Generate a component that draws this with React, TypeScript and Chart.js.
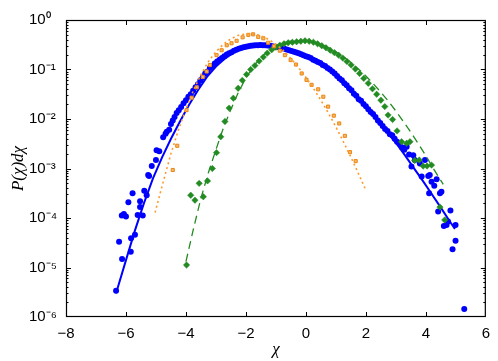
import React, { useEffect, useRef } from 'react';
import { Chart, registerables } from 'chart.js';

Chart.register(...registerables);

// ---------- tick labels ----------
const xTickValues = [-8, -6, -4, -2, 0, 2, 4, 6];
const xTickLabels = ['−8', '−6', '−4', '−2', '0', '2', '4', '6'];
const yTickValues = [1e-6, 1e-5, 1e-4, 1e-3, 1e-2, 1e-1, 1];
const yTickLabels = ['10⁻⁶', '10⁻⁵', '10⁻⁴', '10⁻³', '10⁻²', '10⁻¹', '10⁰'];

// ---------- blue data (circles) ----------
const blueX = [
  -6.33, -6.23, -6.14, -6.13, -6.07, -6.0, -5.92, -5.84, -5.83, -5.78, -5.7, -5.61, -5.53, -5.53, -5.44, -5.39,
  -5.31, -5.26, -5.23, -5.14, -5.0, -4.98, -4.89, -4.76, -4.68, -4.64, -4.56, -4.5, -4.44, -4.38, -4.31,
  -4.24, -4.16, -4.08, -4.0, -3.92, -3.84, -3.76, -3.68, -3.6, -3.52, -3.44, -3.36, -3.28, -3.2, -3.12, -3.04,
  -2.96, -2.88, -2.8, -2.72, -2.64, -2.56, -2.48, -2.4, -2.32, -2.24, -2.16, -2.08, -2.0, -1.92, -1.84, -1.76,
  -1.68, -1.6, -1.52, -1.44, -1.36, -1.28, -1.2, -1.12, -1.04, -0.96, -0.88, -0.8, -0.72, -0.64, -0.56, -0.48,
  -0.4, -0.32, -0.24, -0.16, -0.08, 0.0, 0.08, 0.16, 0.24, 0.32, 0.4, 0.48, 0.56, 0.64, 0.72, 0.8,
  0.88, 0.96, 1.04, 1.12, 1.2, 1.28, 1.36, 1.44, 1.52, 1.6, 1.68, 1.76, 1.84, 1.92, 2.0, 2.08,
  2.16, 2.24, 2.32, 2.4, 2.48, 2.56, 2.64, 2.72, 2.8, 2.88, 2.96, 3.04, 3.12, 3.2,
  3.28, 3.36, 3.44, 3.52, 3.58, 3.63, 3.8, 3.86, 3.97, 4.08, 4.11, 4.13, 4.19, 4.28, 4.36, 4.41,
  4.47, 4.52, 4.6, 4.69, 4.74, 4.82, 4.89, 4.99, 4.99, 5.28,
];
const blueY = [
  3.4e-6, 3.3e-5, 1.12e-4, 1.48e-5, 1.2e-4, 1.07e-4, 2.09e-4, 2.09e-5, 3.89e-5, 3.16e-4, 4.57e-5, 1.15e-4, 2.19e-4, 1.66e-4, 1.12e-4, 3.55e-4,
  2.88e-4, 7.41e-4, 7.08e-4, 1.12e-3, 1.48e-3, 2.34e-3, 2.24e-3, 4.27e-3, 5.01e-3, 5.5e-3, 6.03e-3, 7.94e-3, 9.33e-3, 1.1e-2, 1.32e-2,
  1.51e-2, 1.74e-2, 2.09e-2, 2.4e-2, 2.82e-2, 3.16e-2, 3.72e-2, 4.37e-2, 5.01e-2, 6.03e-2, 6.92e-2, 8.32e-2, 9.12e-2, 1.07e-1, 1.17e-1, 1.32e-1,
  1.45e-1, 1.58e-1, 1.7e-1, 1.86e-1, 2.0e-1, 2.14e-1, 2.24e-1, 2.4e-1, 2.51e-1, 2.63e-1, 2.72e-1, 2.82e-1, 2.88e-1, 2.95e-1, 3.02e-1, 3.05e-1,
  3.09e-1, 3.09e-1, 3.13e-1, 3.09e-1, 3.09e-1, 3.05e-1, 3.02e-1, 2.95e-1, 2.88e-1, 2.85e-1, 2.79e-1, 2.69e-1, 2.63e-1, 2.54e-1, 2.45e-1, 2.37e-1,
  2.29e-1, 2.21e-1, 2.14e-1, 2.04e-1, 1.95e-1, 1.86e-1, 1.78e-1, 1.7e-1, 1.58e-1, 1.51e-1, 1.41e-1, 1.35e-1, 1.23e-1, 1.17e-1, 1.07e-1, 1.0e-1,
  9.12e-2, 8.32e-2, 7.41e-2, 6.61e-2, 6.03e-2, 5.25e-2, 4.79e-2, 4.17e-2, 3.8e-2, 3.24e-2, 2.95e-2, 2.51e-2, 2.34e-2, 2.0e-2, 1.82e-2, 1.58e-2,
  1.38e-2, 1.26e-2, 1.1e-2, 9.33e-3, 8.32e-3, 7.24e-3, 6.31e-3, 5.75e-3, 4.9e-3, 4.68e-3, 3.98e-3, 3.47e-3, 3.16e-3, 2.69e-3,
  2.4e-3, 2.75e-3, 1.91e-3, 1.1e-3, 1.86e-3, 1.48e-3, 1.26e-3, 6.92e-4, 1.48e-3, 7.08e-4, 3.16e-4, 7.41e-4, 5.37e-4, 4.47e-4, 6.03e-4, 1.35e-4,
  3.16e-4, 3.39e-4, 6.92e-5, 7.24e-5, 8.51e-5, 1.41e-4, 2.34e-5, 7.24e-5, 3.47e-5, 1.45e-6,
];

// ---------- blue fit (solid line) ----------
const blueFitX = [
  -6.33, -6.0, -5.7, -5.4, -5.1, -4.8, -4.5, -4.2, -3.9, -3.6, -3.3, -3.0, -2.7, -2.4, -2.1, -1.8, -1.5, -1.2, -0.9, -0.6,
  -0.3, 0, 0.3, 0.6, 0.9, 1.2, 1.5, 1.8, 2.1, 2.4, 2.7, 3.0, 3.3, 3.6, 3.9, 4.2, 4.5, 4.8, 4.97,
];
const blueFitY = [
  3.02e-6, 1.41e-5, 5.62e-5, 2.0e-4, 6.31e-4, 1.66e-3, 3.98e-3, 8.91e-3, 1.91e-2, 3.8e-2, 7.08e-2, 1.15e-1, 1.66e-1, 2.24e-1, 2.75e-1, 3.09e-1, 3.16e-1, 3.09e-1, 2.88e-1, 2.57e-1,
  2.24e-1, 1.91e-1, 1.58e-1, 1.2e-1, 8.71e-2, 6.03e-2, 3.98e-2, 2.51e-2, 1.55e-2, 9.33e-3, 5.5e-3, 3.31e-3, 1.86e-3, 1.02e-3, 5.62e-4, 3.02e-4, 1.62e-4, 8.51e-5, 6.03e-5,
];

// ---------- green data (diamonds) ----------
const greenX = [
  -3.98, -3.84, -3.7, -3.56, -3.42, -3.28, -3.12, -2.98, -2.84, -2.7, -2.56, -2.42, -2.26, -2.12, -1.98, -1.84,
  -1.7, -1.56, -1.42, -1.29, -1.14, -1.0, -0.87, -0.73, -0.59, -0.45, -0.31, -0.17, -0.03, 0.11, 0.25, 0.39,
  0.53, 0.67, 0.81, 0.95, 1.09, 1.23, 1.37, 1.51, 1.65, 1.79, 1.93, 2.08, 2.22, 2.36, 2.5, 2.63,
  2.74, 2.89, 3.04, 3.19, 3.36, 3.47, 3.63, 3.78, 3.91, 4.04, 4.19, 4.47, 4.63,
];
const greenY = [
  1.12e-5, 2.88e-4, 2.29e-4, 5.01e-4, 2.69e-4, 5.62e-4, 1.0e-3, 2.09e-3, 4.37e-3, 8.91e-3, 1.66e-2, 2.63e-2, 4.17e-2, 6.03e-2, 7.94e-2, 1.0e-1,
  1.2e-1, 1.48e-1, 1.78e-1, 2.14e-1, 2.51e-1, 2.82e-1, 3.09e-1, 3.31e-1, 3.47e-1, 3.55e-1, 3.63e-1, 3.72e-1, 3.8e-1, 3.72e-1, 3.55e-1, 3.31e-1,
  3.02e-1, 2.75e-1, 2.45e-1, 2.19e-1, 1.95e-1, 1.7e-1, 1.45e-1, 1.23e-1, 1.02e-1, 8.32e-2, 6.61e-2, 5.25e-2, 4.07e-2, 3.16e-2, 2.4e-2, 1.78e-2,
  1.2e-2, 9.77e-3, 5.75e-3, 3.47e-3, 3.24e-3, 3.47e-3, 1.45e-3, 1.48e-3, 1.12e-3, 1.12e-3, 1.17e-3, 1.66e-4, 9.12e-5,
];

// ---------- green fit (dashed line) ----------
const greenFitX = [
  -4.0, -3.75, -3.5, -3.25, -3.0, -2.75, -2.5, -2.25, -2.0, -1.75, -1.5, -1.25, -1.0, -0.75, -0.5, -0.25, 0, 0.25,
  0.5, 0.75, 1.0, 1.25, 1.5, 1.75, 2.0, 2.25, 2.5, 2.75, 3.0, 3.25, 3.5, 3.75, 4.0, 4.25, 4.58,
];
const greenFitY = [
  1.32e-5, 6.03e-5, 2.51e-4, 8.32e-4, 2.4e-3, 6.61e-3, 1.58e-2, 3.47e-2, 6.76e-2, 1.15e-1, 1.74e-1, 2.4e-1, 3.02e-1, 3.47e-1, 3.72e-1, 3.8e-1, 3.8e-1, 3.63e-1,
  3.24e-1, 2.75e-1, 2.29e-1, 1.82e-1, 1.38e-1, 1.02e-1, 7.41e-2, 5.13e-2, 3.47e-2, 2.29e-2, 1.45e-2, 8.91e-3, 5.37e-3, 3.16e-3, 1.82e-3, 1.0e-3, 4.79e-4,
];

// ---------- orange data (squares) ----------
const orangeX = [
  -4.44, -4.29, -3.98, -3.81, -3.64, -3.44, -3.31, -3.2, -2.98, -2.81, -2.64, -2.48, -2.31, -2.11, -1.92, -1.76, -1.59, -1.42,
  -1.26, -1.07, -0.87, -0.7, -0.51, -0.33, -0.14, 0.02, 0.19, 0.41, 0.58, 0.74, 0.93, 1.11, 1.3, 1.47, 1.66,
];
const orangeY = [
  9.33e-4, 2.88e-3, 1.51e-2, 2.69e-2, 4.37e-2, 7.08e-2, 9.12e-2, 1.23e-1, 1.95e-1, 2.45e-1, 3.09e-1, 3.39e-1, 3.8e-1, 4.47e-1, 5.01e-1, 5.13e-1, 4.57e-1, 4.27e-1,
  3.47e-1, 2.95e-1, 2.4e-1, 1.95e-1, 1.55e-1, 1.26e-1, 8.32e-2, 6.17e-2, 4.9e-2, 3.98e-2, 2.82e-2, 1.78e-2, 1.17e-2, 8.13e-3, 4.57e-3, 2.14e-3, 1.41e-3,
];

// ---------- orange fit (dotted line) ----------
const orangeFitX = [
  -5.03, -4.75, -4.5, -4.25, -4.0, -3.75, -3.5, -3.25, -3.0, -2.75, -2.5, -2.25, -2.0, -1.75, -1.5,
  -1.25, -1.0, -0.75, -0.5, -0.25, 0, 0.25, 0.5, 0.75, 1.0, 1.25, 1.5, 1.75, 1.97,
];
const orangeFitY = [
  1.29e-4, 5.62e-4, 2.0e-3, 6.03e-3, 1.58e-2, 3.8e-2, 7.94e-2, 1.45e-1, 2.29e-1, 3.24e-1, 4.17e-1, 4.9e-1, 5.25e-1, 5.25e-1, 4.79e-1,
  4.07e-1, 3.24e-1, 2.4e-1, 1.66e-1, 1.1e-1, 6.92e-2, 4.17e-2, 2.4e-2, 1.32e-2, 6.92e-3, 3.47e-3, 1.7e-3, 7.94e-4, 3.98e-4,
];

const zip = (xs: number[], ys: number[]) => xs.map((x, i) => ({ x, y: ys[i] }));

const frameTicksPlugin = {
  id: 'frameTicks',
  afterDraw(chart: any) {
    const { ctx, chartArea, scales } = chart;
    const { left, right, top, bottom } = chartArea;
    const xs = scales.x;
    const ys = scales.y;
    ctx.save();
    ctx.strokeStyle = '#000';
    ctx.lineWidth = 1;
    ctx.beginPath();
    xTickValues.forEach((v) => {
      const px = Math.round(xs.getPixelForValue(v)) + 0.5;
      if (px <= left + 1 || px >= right - 1) return;
      ctx.moveTo(px, bottom);
      ctx.lineTo(px, bottom - 5);
      ctx.moveTo(px, top);
      ctx.lineTo(px, top + 5);
    });
    yTickValues.forEach((v, i) => {
      const py = Math.round(ys.getPixelForValue(v)) + 0.5;
      if (py > top + 1 && py < bottom - 1) {
        ctx.moveTo(left, py);
        ctx.lineTo(left + 5, py);
        ctx.moveTo(right, py);
        ctx.lineTo(right - 5, py);
      }
      if (i < yTickValues.length - 1) {
        for (let k = 2; k <= 9; k++) {
          const pm = Math.round(ys.getPixelForValue(v * k)) + 0.5;
          ctx.moveTo(left, pm);
          ctx.lineTo(left + 2.5, pm);
          ctx.moveTo(right, pm);
          ctx.lineTo(right - 2.5, pm);
        }
      }
    });
    ctx.stroke();
    ctx.lineWidth = 1.2;
    ctx.strokeRect(left + 0.5, top + 0.5, right - left - 1, bottom - top - 1);
    ctx.restore();
  },
};

export default function App() {
  const canvasRef = useRef<HTMLCanvasElement | null>(null);

  useEffect(() => {
    const canvas = canvasRef.current;
    if (!canvas) return;
    const tickFont = { family: '"Liberation Sans", Arial, sans-serif', size: 15 };
    const chart = new Chart(canvas, {
      type: 'scatter',
      data: {
        datasets: [
          {
            label: 'orange fit',
            data: zip(orangeFitX, orangeFitY),
            showLine: true,
            borderColor: '#ff9a2a',
            borderWidth: 1.6,
            borderDash: [2, 3],
            pointRadius: 0,
            fill: false,
          },
          {
            label: 'orange',
            data: zip(orangeX, orangeY),
            pointStyle: 'rect',
            pointRadius: 2.2,
            backgroundColor: '#f7b860',
            borderColor: '#e8861a',
            borderWidth: 1,
          },
          {
            label: 'green fit',
            data: zip(greenFitX, greenFitY),
            showLine: true,
            borderColor: '#228b22',
            borderWidth: 1.3,
            borderDash: [8, 5],
            pointRadius: 0,
            fill: false,
          },
          {
            label: 'green',
            data: zip(greenX, greenY),
            pointStyle: 'rectRot',
            pointRadius: 3.2,
            backgroundColor: '#228b22',
            borderColor: '#228b22',
            borderWidth: 0.5,
          },
          {
            label: 'blue fit',
            data: zip(blueFitX, blueFitY),
            showLine: true,
            borderColor: '#0000ff',
            borderWidth: 2,
            pointRadius: 0,
            fill: false,
          },
          {
            label: 'blue',
            data: zip(blueX, blueY),
            pointStyle: 'circle',
            pointRadius: 3,
            backgroundColor: '#0000ff',
            borderColor: '#0000ff',
            borderWidth: 0,
          },
        ],
      },
      options: {
        responsive: false,
        animation: false,
        devicePixelRatio: 1,
        layout: { padding: { top: 20, right: 12, left: 29, bottom: 0 } },
        plugins: {
          legend: { display: false },
          tooltip: { enabled: false },
        },
        scales: {
          x: {
            type: 'linear',
            min: -8,
            max: 6,
            afterFit: (scale: any) => {
              scale.height = 44;
            },
            ticks: {
              stepSize: 2,
              color: '#000',
              font: tickFont,
              padding: 8,
              maxRotation: 0,
              callback: (value: any) => {
                const i = xTickValues.indexOf(Number(value));
                return i >= 0 ? xTickLabels[i] : '';
              },
            },
            grid: { display: false, drawTicks: false },
            border: { display: false },
            title: {
              display: true,
              text: 'χ',
              color: '#000',
              font: { family: '"Liberation Serif", "DejaVu Serif", serif', size: 17, style: 'italic' },
              padding: { top: 0, bottom: 1 },
            },
          },
          y: {
            type: 'logarithmic',
            min: 1e-6,
            max: 1,
            afterFit: (scale: any) => {
              scale.width = 37;
            },
            afterBuildTicks: (scale: any) => {
              scale.ticks = yTickValues.map((v) => ({ value: v, major: true }));
            },
            ticks: {
              autoSkip: false,
              color: '#000',
              font: tickFont,
              padding: 4,
              crossAlign: 'far',
              callback: (_value: any, index: number) => yTickLabels[index] ?? '',
            },
            grid: { display: false, drawTicks: false },
            border: { display: false },
            title: {
              display: true,
              text: 'P(χ)dχ',
              color: '#000',
              font: { family: '"Liberation Serif", "DejaVu Serif", serif', size: 17, style: 'italic' },
              padding: { top: -21, bottom: 0 },
            },
          },
        },
      },
      plugins: [frameTicksPlugin],
    });
    return () => chart.destroy();
  }, []);

  return (
    <div style={{ position: 'fixed', left: 0, top: 0, width: 498, height: 361, background: '#fff' }}>
      <canvas ref={canvasRef} width={498} height={361} style={{ display: 'block' }} />
    </div>
  );
}
